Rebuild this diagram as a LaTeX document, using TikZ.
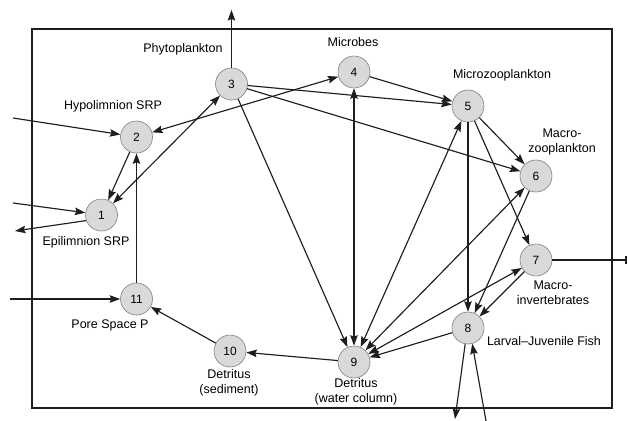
\documentclass[tikz,border=0pt]{standalone}
\usepackage{fontspec}
\setmainfont{Liberation Sans}
\usetikzlibrary{arrows.meta}
\definecolor{nodefill}{RGB}{217,217,217}
\definecolor{nodeborder}{RGB}{128,128,128}
\definecolor{edgecol}{RGB}{30,30,30}
\begin{document}
\begin{tikzpicture}[x=1pt,y=-1pt,
  comp/.style={circle,draw=nodeborder,fill=nodefill,line width=0.6pt,minimum size=32pt,inner sep=0pt,font=\fontsize{12}{14}\selectfont},
  lbl/.style={font=\fontsize{12.5}{15}\selectfont,align=center,inner sep=0pt},
  tipstyle/.tip={Stealth[length=10.5pt,width=7.5pt,inset=1.5pt]},
  flow/.style={draw=edgecol,line width=1.15pt,-tipstyle},
  bi/.style={draw=edgecol,line width=1.15pt,tipstyle-tipstyle},
]
\useasboundingbox (0,0) rectangle (628,420);
\draw[line width=1.7pt,draw=edgecol] (32,29) rectangle (612,408);

\node[comp] (n1) at (101.5,215) {1};
\node[comp] (n2) at (136.5,137) {2};
\node[comp] (n3) at (231.5,84) {3};
\node[comp] (n4) at (354,72) {4};
\node[comp] (n5) at (468,106) {5};
\node[comp] (n6) at (536,176) {6};
\node[comp] (n7) at (536,260) {7};
\node[comp] (n8) at (468,328) {8};
\node[comp] (n9) at (354,362) {9};
\node[comp] (n10) at (230,351) {10};
\node[comp] (n11) at (136.5,299) {11};

\node[lbl] (l3) at (183,49) {Phytoplankton};
\node[lbl] (l2) at (113,106) {Hypolimnion SRP};
\node[lbl] (l4) at (353,42) {Microbes};
\node[lbl] (l5) at (502,75) {Microzooplankton};
\node[lbl] (l6) at (562,141.5) {Macro-\\zooplankton};
\node[lbl] (l1) at (86,242) {Epilimnion SRP};
\node[lbl] (l11) at (110,325) {Pore Space P};
\node[lbl] (l10) at (229,382.5) {Detritus\\(sediment)};
\node[lbl] (l9) at (356,391.5) {Detritus\\(water column)};
\node[lbl] (l7) at (553,292.5) {Macro-\\invertebrates};
\node[lbl] (l8) at (544,341) {Larval–Juvenile Fish};

\coordinate (in2) at (13,118);
\coordinate (in1) at (13,203);
\coordinate (out1) at (15,231);
\coordinate (in11) at (10,299);
\coordinate (out3) at (231.5,10);
\coordinate (out7) at (627,260);
\coordinate (out8) at (455,419);
\coordinate (in8) at (486,421);

\draw[flow] (in2) -- (n2);
\draw[flow] (in1) -- (n1.172);
\draw[flow] (n1.200) -- (out1);
\draw[flow] (in11) -- (n11);
\draw[flow] (n3) -- (out3);
\draw[flow] (n2) -- (n1);
\draw[flow] (n11) -- (n2);
\draw[bi] (n1) -- (n3);
\draw[bi] (n2) -- (n4);
\draw[flow] (n3) -- (n5);
\draw[flow] (n3) -- (n6);
\draw[flow] (n3) -- (n9);
\draw[flow] (n4) -- (n5);
\draw[bi] (n4) -- (n9);
\draw[bi] (n5) -- (n9);
\draw[bi] (n6) -- (n9);
\draw[bi] (n7) -- (n9);
\draw[flow] (n8) -- (n9);
\draw[flow] (n5) -- (n8);
\draw[flow] (n5) -- (n6);
\draw[flow] (n5) -- (n7);
\draw[flow] (n6) -- (n8);
\draw[flow] (n7) -- (n8);
\draw[flow] (n9) -- (n10);
\draw[flow] (n10) -- (n11);
\draw[draw=edgecol,line width=1.15pt,-{Bar[width=8pt,line width=1.6pt]}] (n7) -- (out7);
\draw[flow] (n8.260) -- (out8);
\draw[flow] (in8) -- (n8.285);
\end{tikzpicture}
\end{document}
